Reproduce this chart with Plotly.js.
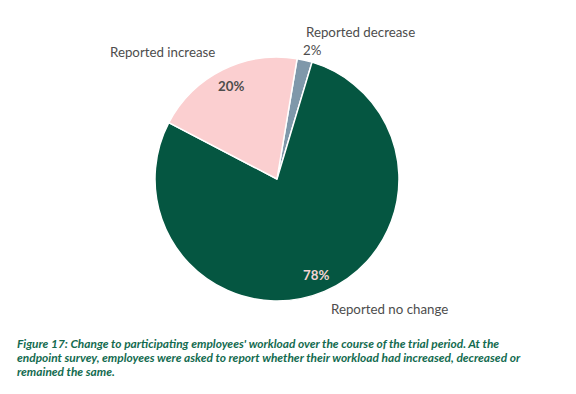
<!DOCTYPE html>
<html><head><meta charset="utf-8">
<script src="https://cdn.plot.ly/plotly-3.0.1.min.js"></script>
<style>body{margin:0;background:#fff}#c{width:576px;height:394px}</style>
</head><body><div id="c"></div>
<script>
const categories = ["Reported decrease", "Reported no change", "Reported increase"];
const values = [2, 78, 20];
const colors = ["#7f98aa", "#055641", "#fbcfd0"];
const captionLines = [
  "Figure 17: Change to participating employees' workload over the course of the trial period. At the",
  "endpoint survey, employees were asked to report whether their workload had increased, decreased or",
  "remained the same."
];

const total = values.reduce((a,b)=>a+b,0);
const pct = values.map(v => Math.round(v/total*100) + "%");

const labelFont = {family: "Lato, 'Noto Sans', sans-serif", size: 13.3, color: "#4d4d4d"};
const annos = [
  {x: 360/576, y: 1-32/394, text: categories[0]},
  {x: 162/576, y: 1-52/394, text: categories[2]},
  {x: 389/576, y: 1-309/394, text: categories[1]},
  {x: 312/576, y: 1-50/394, text: pct[0]},
  {x: 231/576, y: 1-86/394, text: "<b>" + pct[2] + "</b>"},
  {x: 316/576, y: 1-275/394, text: "<b>" + pct[1] + "</b>", color: "#f3d3d2"}
].map(a => ({x: a.x, y: a.y, xref: "paper", yref: "paper", text: a.text, showarrow: false,
  xanchor: "center", yanchor: "middle",
  font: Object.assign({}, labelFont, a.color ? {color: a.color} : {})}));

const capY = [343, 357, 371];
captionLines.forEach((t, i) => annos.push({x: 15/576, y: 1-capY[i]/394, xref: "paper", yref: "paper",
  xanchor: "left", yanchor: "middle", align: "left", showarrow: false, text: "<i>" + t + "</i>",
  font: {family: "Lato, 'Noto Sans', sans-serif", size: 11.9, color: "#136b4f", weight: 700}}));

Plotly.newPlot("c", [{
  type: "pie", labels: categories, values: values, sort: false, direction: "clockwise",
  rotation: 9.5, textinfo: "none", hoverinfo: "label+percent",
  marker: {colors: colors, line: {color: "#ffffff", width: 1.5}},
  domain: {x: [155/576, 399/576], y: [93/394, 337/394]}
}], {
  width: 576, height: 394, margin: {l: 0, r: 0, t: 0, b: 0},
  paper_bgcolor: "#ffffff", showlegend: false, annotations: annos
}, {displayModeBar: false, staticPlot: true});
</script></body></html>
